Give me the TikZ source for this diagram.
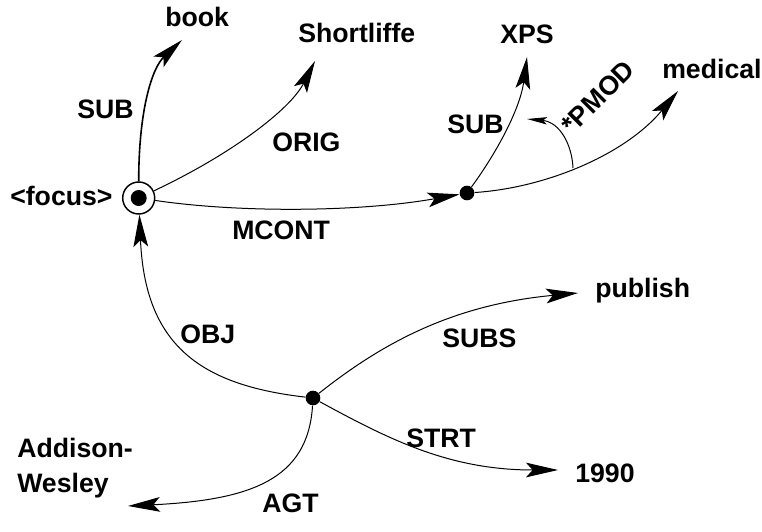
\documentclass[tikz,border=0pt]{standalone}
\usepackage{fontspec}
\setmainfont{Liberation Sans}
\usetikzlibrary{arrows.meta}
\begin{document}
\begin{tikzpicture}[x=0.75pt,y=-0.75pt,
  lbl/.style={font=\bfseries\fontsize{20}{26}\selectfont, inner sep=0pt, anchor=base west},
  rel/.style={line width=0.75pt, -{Stealth[length=24pt,width=11pt,inset=5pt]}},
  smallrel/.style={line width=0.75pt, -{Stealth[length=15pt,width=5.5pt,inset=3pt]}},
  dotnode/.style={circle, fill=black, inner sep=0pt, minimum size=11pt}]
\useasboundingbox (0,0) rectangle (762,531);

% focus node and the two junction points
\node[circle, draw, line width=1.1pt, minimum size=24pt, inner sep=0pt] (fc) at (138.7,198) {};
\node[dotnode, minimum size=12pt] (fcdot) at (fc.center) {};
\node[dotnode] (d1) at (467,193) {};
\node[dotnode] (d2) at (313,398) {};

% concept texts
\node[lbl] (focus) at (10,205) {<focus>};
\node[lbl] (book) at (165,27) {book};
\node[lbl] (shl) at (298,43) {Shortliffe};
\node[lbl] (xps) at (500,44) {XPS};
\node[lbl] (med) at (662,79) {medical};
\node[lbl] (pub) at (595,297) {publish};
\node[lbl] (yr) at (575,482) {1990};
\node[lbl, align=left] (aw) at (17,492) {Addison-\\Wesley};

% relation labels
\node[lbl] (lsub1) at (77,118) {SUB};
\node[lbl] (lorig) at (272,151) {ORIG};
\node[lbl] (lmcont) at (232,239) {MCONT};
\node[lbl] (lsub2) at (447,133) {SUB};
\node[font=\bfseries\fontsize{20}{26}\selectfont, inner sep=0pt, rotate=45] (lpmod) at (598,97) {*PMOD};
\node[lbl] (lobj) at (180,343) {OBJ};
\node[lbl] (lsubs) at (442,347) {SUBS};
\node[lbl] (lstrt) at (406,447) {STRT};
\node[lbl] (lagt) at (262,512) {AGT};

% arrow tips
\coordinate (bookTip) at (182,40);
\coordinate (shlTip) at (315,61);
\coordinate (xpsTip) at (527,57);
\coordinate (medTip) at (678,91);
\coordinate (pmodFrom) at (573,168);
\coordinate (pmodTip) at (527,119);
\coordinate (pubTip) at (578,293);
\coordinate (yrTip) at (558,470);
\coordinate (awTip) at (128,506);

% relations
\draw[rel, line width=1.2pt] (fc) .. controls (138.7,110) and (152,68) .. (bookTip);
\draw[rel] (fc) .. controls (230,155) and (290,110) .. (shlTip);
\draw[rel] (fc) .. controls (240,213) and (360,212) .. (d1);
\draw[rel] (d1) .. controls (495,155) and (520,110) .. (xpsTip);
\draw[rel] (d1) .. controls (545,188) and (625,155) .. (medTip);
\draw[smallrel] (pmodFrom) .. controls (572,145) and (560,122) .. (pmodTip);
\draw[rel] (d2) .. controls (200,385) and (145,345) .. (fc);
\draw[rel] (d2) .. controls (380,345) and (450,305) .. (pubTip);
\draw[rel] (d2) .. controls (390,440) and (450,470) .. (yrTip);
\draw[rel] (d2) .. controls (308,480) and (250,500) .. (awTip);
\end{tikzpicture}
\end{document}
